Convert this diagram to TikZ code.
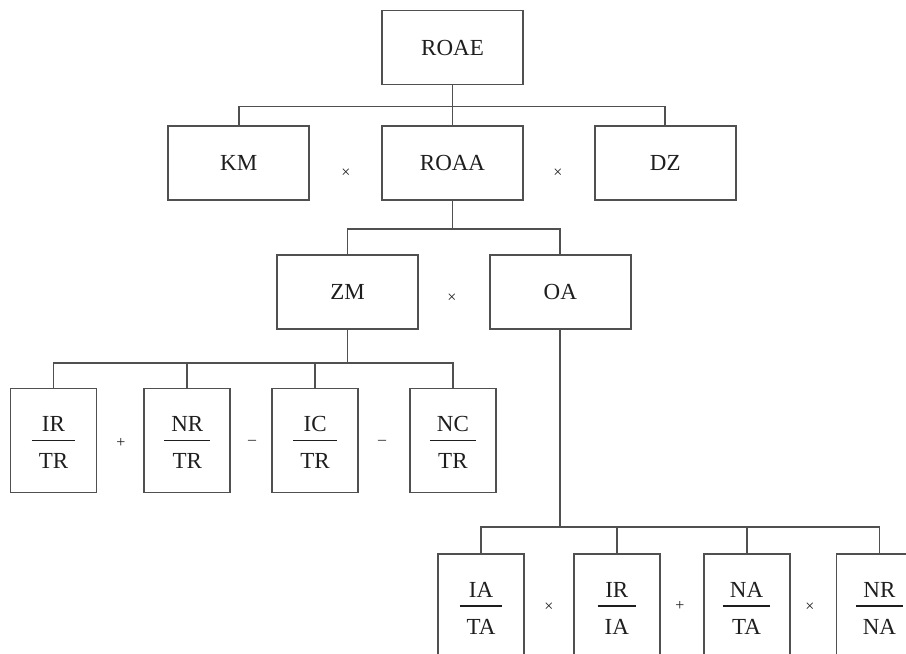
\documentclass[tikz,border=0pt]{standalone}
\usepackage{amsmath}
\usepackage{fontspec}
\setmainfont{Liberation Serif}
\usepackage{tikz}
\usetikzlibrary{positioning,calc}
\definecolor{linegray}{HTML}{505050}
\definecolor{inkgray}{HTML}{1E1E1E}
\newcommand{\ratio}[2]{\raisebox{0pt}[25pt][12.5pt]{$\genfrac{}{}{1.6pt}{0}{\raisebox{-2pt}[\height][0pt]{\hspace{7pt}#1\hspace{7pt}}}{\raisebox{-5pt}[\height][0pt]{\hspace{7pt}#2\hspace{7pt}}}$}}

\begin{document}
\begin{tikzpicture}[x=1pt,y=-1pt,font=\fontsize{23}{27}\selectfont,text=inkgray,
  box/.style={draw=linegray,line width=1.8pt,minimum width=141pt,minimum height=74pt,inner sep=0pt},
  frbox/.style={draw=linegray,line width=1.8pt,minimum width=86pt,minimum height=104pt,inner sep=0pt},
  op/.style={font=\fontsize{16}{18}\selectfont,inner sep=0pt},
  link/.style={draw=linegray,line width=1.8pt}]
\clip (0,0) rectangle (906,654);
% top levels
\node[box] (roae) at (452.5,47.5) {ROAE};
\node[box] (roaa) at (452.5,163) {ROAA};
\node[box,left=71pt of roaa] (km) {KM};
\node[box,right=70pt of roaa] (dz) {DZ};
\node[box] (zm) at (347.5,292) {ZM};
\node[box,right=70pt of zm] (oa) {OA};
% ratio rows
\node[frbox] (ir) at (53.5,440.5) {\ratio{IR}{TR}};
\node[frbox,right=46pt of ir] (nr) {\ratio{NR}{TR}};
\node[frbox,right=40pt of nr] (ic) {\ratio{IC}{TR}};
\node[frbox,right=50pt of ic] (nc) {\ratio{NC}{TR}};
\node[frbox] (ia) at (481,606) {\ratio{IA}{TA}};
\node[frbox,right=48pt of ia] (ria) {\ratio{IR}{IA}};
\node[frbox,right=42pt of ria] (na) {\ratio{NA}{TA}};
\node[frbox,right=45pt of na] (rna) {\ratio{NR}{NA}};
% operators
\node[op] (opa) at (346,173) {×};
\node[op] (opb) at (558,173) {×};
\node[op] (opc) at (452,298) {×};
\node[op] (opd) at (121,443) {+};
\node[op] (ope) at (252,442) {–};
\node[op] (opf) at (382,442) {–};
\node[op] (opg) at (549,607) {×};
\node[op] (oph) at (680,606) {+};
\node[op] (opi) at (810,607) {×};
% connectors
\draw[link] (roae.south) -- ++(0,21) coordinate (busa) -| (km.north);
\draw[link] (busa) -| (dz.north);
\draw[link] (busa) -- (roaa.north);
\draw[link] (roaa.south) -- ++(0,28) coordinate (busb) -| (zm.north);
\draw[link] (busb) -| (oa.north);
\draw[link] (zm.south) -- ++(0,33) coordinate (busc);
\foreach \n in {ir,nr,ic,nc}
  \draw[link] (busc) -| (\n.north);
\draw[link] (oa.south) -- ++(0,197) coordinate (busd);
\foreach \n in {ia,ria,na,rna}
  \draw[link] (busd) -| (\n.north);
\end{tikzpicture}
\end{document}
